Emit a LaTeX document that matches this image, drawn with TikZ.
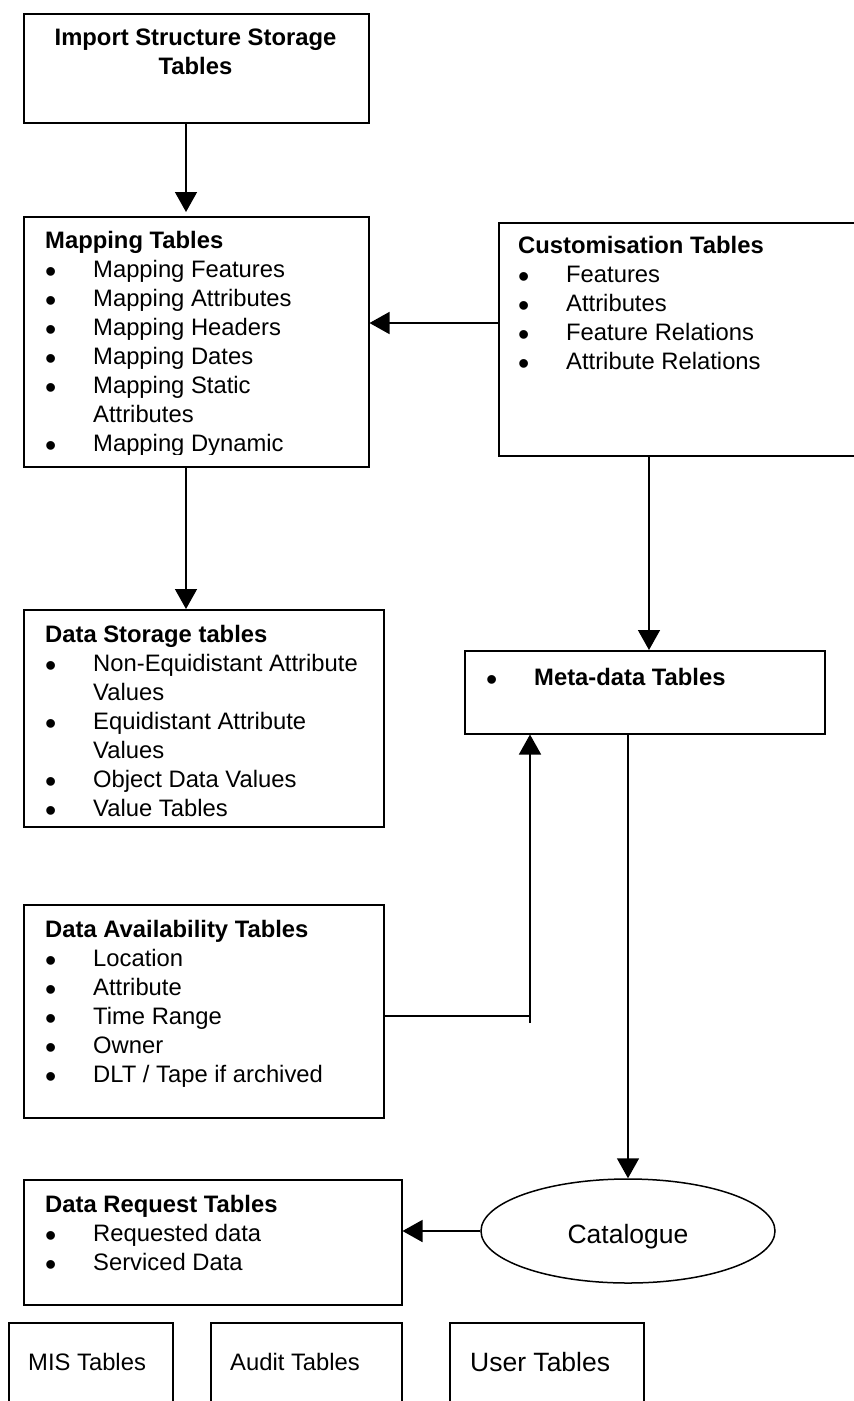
\documentclass[tikz,border=0pt]{standalone}
\usepackage{fontspec}
\setmainfont{Liberation Sans}
\usetikzlibrary{arrows.meta,shapes.geometric}
\newcommand\fsz{\fontsize{23.8}{29}\selectfont}
\newcommand\fbig{\fontsize{26.5}{30}\selectfont}
\newcommand\bl{\makebox[48pt][l]{\raisebox{-5pt}{\fontsize{32}{29}\selectfont •}}}
\newcommand\ind{\hspace*{48pt}}
\tikzset{
  x=1pt, y=-1pt,
  box/.style={draw=black, line width=1.5pt, rectangle, anchor=north west, inner sep=0pt},
  arr/.style={line width=1.5pt, -{Triangle[width=22pt,length=20pt]}},
  conn/.style={line width=1.5pt},
  txt/.style={anchor=base west, inner sep=0pt, font=\fsz},
}
\begin{document}
\begin{tikzpicture}
\useasboundingbox (0,0) rectangle (854,1401);
\clip (0,0) rectangle (854,1401);
\fill[white] (0,0) rectangle (854,1401);

% boxes
\node[box, minimum width=345, minimum height=109] (imp) at (23,13) {};
\node[box, minimum width=345, minimum height=250] (map) at (23,216) {};
\node[box, minimum width=382, minimum height=233] (cust) at (498,222) {};
\node[box, minimum width=360, minimum height=217] (ds) at (23,609) {};
\node[box, minimum width=360, minimum height=83] (meta) at (464,650) {};
\node[box, minimum width=360, minimum height=213] (da) at (23,904) {};
\node[box, minimum width=378, minimum height=125] (dr) at (23,1179) {};
\node[box, minimum width=164, minimum height=110] (mis) at (8,1322) {};
\node[box, minimum width=191, minimum height=110] (aud) at (210,1322) {};
\node[box, minimum width=194, minimum height=110] (usr) at (449,1322) {};
\node[draw=black, line width=1.5pt, ellipse, minimum width=294, minimum height=104,
      inner sep=0pt, font=\fbig, text height=24pt, text depth=0pt] (cat) at (628,1231) {Catalogue};

% texts
\node[anchor=base, inner sep=0pt, font=\fsz] (impT) at (195.5,45)
  {\parbox[t]{340pt}{\centering\bfseries Import Structure Storage\\Tables}};

\begin{scope}
\clip (23,216) rectangle (368,454);
\node[txt] (mapT) at (45,248) {\parbox[t]{400pt}{\raggedright
  \textbf{Mapping Tables}\\
  \bl Mapping Features\\
  \bl Mapping Attributes\\
  \bl Mapping Headers\\
  \bl Mapping Dates\\
  \bl Mapping Static\\
  \ind Attributes\\
  \bl Mapping Dynamic}};
\end{scope}

\node[txt] (custT) at (518,253) {\parbox[t]{400pt}{\raggedright
  \textbf{Customisation Tables}\\
  \bl Features\\
  \bl Attributes\\
  \bl Feature Relations\\
  \bl Attribute Relations}};

\node[txt] (dsT) at (45,642) {\parbox[t]{400pt}{\raggedright
  \textbf{Data Storage tables}\\
  \bl Non-Equidistant Attribute\\
  \ind Values\\
  \bl Equidistant Attribute\\
  \ind Values\\
  \bl Object Data Values\\
  \bl Value Tables}};

\node[txt] (metaT) at (486,685) {\bl\textbf{Meta-data Tables}};

\node[txt] (daT) at (45,937) {\parbox[t]{400pt}{\raggedright
  \textbf{Data Availability Tables}\\
  \bl Location\\
  \bl Attribute\\
  \bl Time Range\\
  \bl Owner\\
  \bl DLT / Tape if archived}};

\node[txt] (drT) at (45,1212) {\parbox[t]{400pt}{\raggedright
  \textbf{Data Request Tables}\\
  \bl Requested data\\
  \bl Serviced Data}};

\node[txt] (misT) at (28,1370) {MIS Tables};
\node[txt] (audT) at (230,1370) {Audit Tables};
\node[txt, font=\fbig] (usrT) at (470,1371) {User Tables};

% connectors
\draw[arr, shorten >=4pt] (186,0 |- imp.south) -- (186,0 |- map.north);
\draw[arr] (cust.west |- 0,323) -- (map.east |- 0,323);
\draw[arr] (186,0 |- map.south) -- (186,0 |- ds.north);
\draw[arr] (649,0 |- cust.south) -- (649,0 |- meta.north);
\coordinate (jn) at (530,1023);
\draw[conn] (da.east |- 0,1016) -- (jn |- 0,1016);
\draw[arr] (jn) -- (jn |- meta.south);
\draw[arr] (628,0 |- meta.south) -- (cat.north);
\draw[arr] (cat.west) -- (dr.east |- cat.west);
\end{tikzpicture}
\end{document}
